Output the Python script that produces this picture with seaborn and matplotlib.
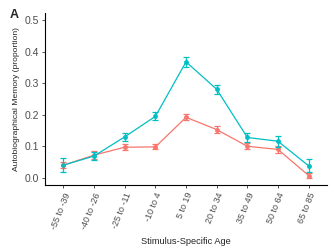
import pandas as pd
import numpy as np
import matplotlib
matplotlib.use("Agg")
import matplotlib.pyplot as plt
import seaborn as sns

# données
ages = ["-55 to -39", "-40 to -26", "-25 to -11", "-10 to 4", "5 to 19",
        "20 to 34", "35 to 49", "50 to 64", "65 to 85"]
rouge = [0.040, 0.072, 0.097, 0.098, 0.192, 0.153, 0.100, 0.090, 0.007]
rouge_err = [0.010, 0.013, 0.010, 0.008, 0.010, 0.010, 0.009, 0.012, 0.008]
cyan = [0.040, 0.069, 0.130, 0.195, 0.368, 0.281, 0.128, 0.116, 0.038]
cyan_err = [0.022, 0.012, 0.013, 0.013, 0.016, 0.015, 0.013, 0.017, 0.020]

df = pd.DataFrame({
    "age": ages * 2,
    "val": rouge + cyan,
    "err": rouge_err + cyan_err,
    "groupe": ["rouge"] * len(ages) + ["cyan"] * len(ages),
})

sns.set_style("white")
plt.rcParams['font.family'] = ['Liberation Sans', 'DejaVu Sans']

couleurs = {"rouge": "#F8766D", "cyan": "#00BFC4"}

fig = plt.figure(figsize=(3.34, 2.5), dpi=100)
ax = fig.add_axes([0.135, 0.26, 0.844, 0.689])

sns.lineplot(data=df, x="age", y="val", hue="groupe", palette=couleurs,
             marker="o", markersize=3.5, markeredgewidth=0, linewidth=0.9,
             legend=False, ax=ax, sort=False)

for g in ["rouge", "cyan"]:
    sub = df[df["groupe"] == g]
    ax.errorbar(np.arange(len(sub)), sub["val"], yerr=sub["err"], fmt="none",
                ecolor=couleurs[g], elinewidth=0.9, capsize=2.5, capthick=0.9)

ax.set_xlim(-0.6, 8.6)
ax.set_ylim(-0.023, 0.524)
ax.set_yticks([0.0, 0.1, 0.2, 0.3, 0.4, 0.5])
ax.set_yticklabels(["0.0", "0.1", "0.2", "0.3", "0.4", "0.5"])
ax.set_xticks(range(len(ages)))
ax.set_xticklabels(ages, rotation=68, ha="right", rotation_mode="anchor",
                   fontsize=6.5)

for s in ["top", "right"]:
    ax.spines[s].set_visible(False)
for s in ["left", "bottom"]:
    ax.spines[s].set_color("black")
    ax.spines[s].set_linewidth(0.8)

ax.tick_params(axis="both", which="both", length=2.5, width=0.6, color="#333333",
               labelcolor="#4d4d4d", left=True, bottom=True, pad=2)
ax.tick_params(axis="y", labelsize=7.5)
ax.set_xlabel("Stimulus-Specific Age", fontsize=6.7, labelpad=5)
ax.set_ylabel("Autobiographical Memory (proportion)", fontsize=6.1, labelpad=3)

fig.text(0.03, 0.928, "A", fontsize=9, fontweight="bold")

fig.savefig("out.png", dpi=100)
